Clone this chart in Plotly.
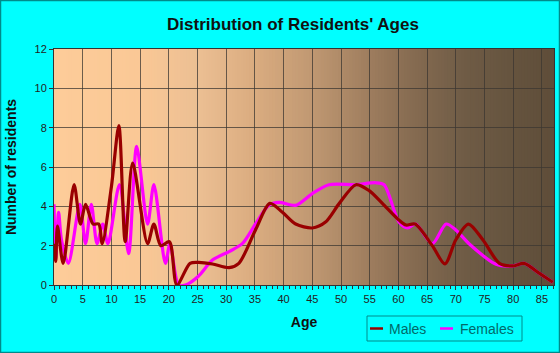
import plotly.graph_objects as go

# ---- data ----
male_age = [0, 0.3, 0.6, 1.6, 3.5, 4.6, 5.5, 6.8, 7.8, 8.4, 10.0, 11.3, 12.4, 13.7, 16.3, 17.4, 18.6, 20.1,
            21.4, 23.7, 25.2, 27.6, 30.5, 32.2, 35.1, 37.6, 39.8, 42.1, 45.0, 47.3, 49.7, 52.6, 54.9, 57.2,
            60.1, 61.3, 62.9, 65.9, 68.1, 70.0, 72.2, 74.7, 77.6, 79.9, 81.9, 84.5, 86.9]
male_val = [2.1, 1.2, 3.0, 1.1, 5.1, 3.1, 4.1, 3.1, 3.1, 2.1, 5.0, 8.1, 2.2, 6.2, 2.1, 3.1, 2.0, 2.2,
            0.0, 1.1, 1.15, 1.07, 0.88, 1.1, 2.8, 4.15, 3.7, 3.1, 2.9, 3.2, 4.15, 5.1, 4.8, 4.15,
            3.3, 3.05, 3.1, 2.0, 1.07, 2.3, 3.1, 2.3, 1.1, 0.97, 1.1, 0.6, 0.14]

female_age = [0, 0.3, 0.8, 1.3, 2.5, 4.5, 5.5, 6.5, 7.5, 8.5, 9.4, 11.4, 13.0, 14.4, 16.3, 17.4, 19.4, 20.2,
              21.7, 22.9, 25.2, 27.6, 30.5, 32.8, 35.1, 37.4, 39.2, 42.1, 45.0, 47.9, 52.6, 56.0, 57.5,
              60.1, 61.6, 63.0, 65.9, 68.3, 70.0, 72.3, 77.0, 79.9, 81.9, 84.5, 86.9]
female_val = [4.1, 1.3, 3.7, 2.3, 1.1, 4.1, 2.1, 4.1, 2.1, 3.1, 2.1, 5.1, 1.6, 7.05, 3.1, 5.1, 1.1, 2.1,
              0.0, 0.0, 0.46, 1.27, 1.7, 2.1, 3.1, 4.05, 4.2, 4.05, 4.65, 5.1, 5.1, 5.2, 5.1,
              3.2, 2.9, 3.1, 2.1, 3.1, 2.8, 2.1, 1.05, 0.97, 1.1, 0.6, 0.14]

series_names = ["Males", "Females"]
series_colors = ["#990000", "#ff00ff"]

x_ticks = list(range(0, 90, 5))
y_ticks = list(range(0, 14, 2))

FONT = "Liberation Sans, Arial, sans-serif"

W, H = 560, 353
ml, mr, mt, mb = 54, 6, 49, 68
pw, ph = W - ml - mr, H - mt - mb

def px(xp):
    return (xp - ml) / pw

def py(yp):
    return (H - mb - yp) / ph

fig = go.Figure()
fig.add_trace(go.Scatter(x=female_age, y=female_val, name=series_names[1], mode="lines",
                         line=dict(color=series_colors[1], width=3.2, shape="spline", smoothing=0.8)))
fig.add_trace(go.Scatter(x=male_age, y=male_val, name=series_names[0], mode="lines",
                         line=dict(color=series_colors[0], width=3.2, shape="spline", smoothing=0.8)))

# ---- gradient background (vertical strips, below grid) ----
stops = [(0, (253, 204, 153)), (15, (250, 200, 150)), (25, (236, 191, 147)), (35, (218, 172, 128)),
         (45, (192, 152, 114)), (55, (158, 125, 94)), (62, (135, 108, 82)), (72, (110, 91, 69)),
         (87.2, (94, 77, 57))]

def col_at(a):
    for (a0, c0), (a1, c1) in zip(stops[:-1], stops[1:]):
        if a0 <= a <= a1:
            t = (a - a0) / (a1 - a0)
            return "rgb(%d,%d,%d)" % tuple(round(c0[i] + (c1[i] - c0[i]) * t) for i in range(3))
    return "rgb(%d,%d,%d)" % stops[-1][1]

shapes = []
step = 0.5
n = int(87.2 / step) + 1
for i in range(n):
    a0 = i * step
    shapes.append(dict(type="rect", xref="x", yref="y", x0=a0, x1=a0 + step + 0.15, y0=0, y1=12,
                       fillcolor=col_at(a0 + step / 2), line=dict(width=0), layer="below"))

# outer image border
shapes.append(dict(type="rect", xref="paper", yref="paper",
                   x0=px(0.5), x1=px(W - 0.5), y0=py(H - 0.5), y1=py(0.5),
                   line=dict(color="#008b8b", width=1.5), layer="above"))

# ---- custom legend ----
shapes.append(dict(type="rect", xref="paper", yref="paper",
                   x0=px(367), x1=px(522), y0=py(341), y1=py(316),
                   fillcolor="#00ffff", line=dict(color="#008b8b", width=1), layer="above"))
annotations = []
leg_y = 328.5
leg_items = [(370, 383, 387), (440, 453, 458)]
for (lx0, lx1, tx), name, color in zip(leg_items, series_names, series_colors):
    shapes.append(dict(type="line", xref="paper", yref="paper", x0=px(lx0), x1=px(lx1),
                       y0=py(leg_y), y1=py(leg_y), line=dict(color=color, width=2.5), layer="above"))
    annotations.append(dict(text=name, xref="paper", yref="paper", x=px(tx), y=py(leg_y),
                            xanchor="left", yanchor="middle", showarrow=False,
                            font=dict(family=FONT, size=14, color="#006a6a")))

fig.update_layout(
    width=W, height=H,
    margin=dict(l=ml, r=mr, t=mt, b=mb),
    paper_bgcolor="#00ffff", plot_bgcolor="#fdcc99",
    shapes=shapes, annotations=annotations,
    title=dict(text="<b>Distribution of Residents' Ages</b>", x=293 / W, xanchor="center",
               y=1 - 24 / H, yanchor="middle",
               font=dict(family=FONT, size=17, color="#111111")),
    showlegend=False,
    xaxis=dict(range=[0, 87.1], tickvals=x_ticks, ticks="outside", ticklen=4, tickcolor="#333",
               showgrid=True, gridcolor="rgba(60,55,50,0.75)", gridwidth=1,
               showline=True, linecolor="#333", linewidth=1, mirror=True, zeroline=False,
               minor=dict(dtick=1, tick0=0, ticks="outside", ticklen=3, tickcolor="#333", showgrid=False),
               tickfont=dict(family=FONT, size=11, color="#222"),
               title=dict(text="<b>Age</b>", font=dict(family=FONT, size=14, color="#111"), standoff=12)),
    yaxis=dict(range=[0, 12], tickvals=y_ticks, ticks="outside", ticklen=4, tickcolor="#333",
               showgrid=True, gridcolor="rgba(60,55,50,0.75)", gridwidth=1,
               showline=True, linecolor="#333", linewidth=1, mirror=True, zeroline=False,
               tickfont=dict(family=FONT, size=11, color="#222"),
               title=dict(text="<b>Number of residents</b>", font=dict(family=FONT, size=14, color="#111"),
                          standoff=14)),
)

fig.write_html("out.html")
